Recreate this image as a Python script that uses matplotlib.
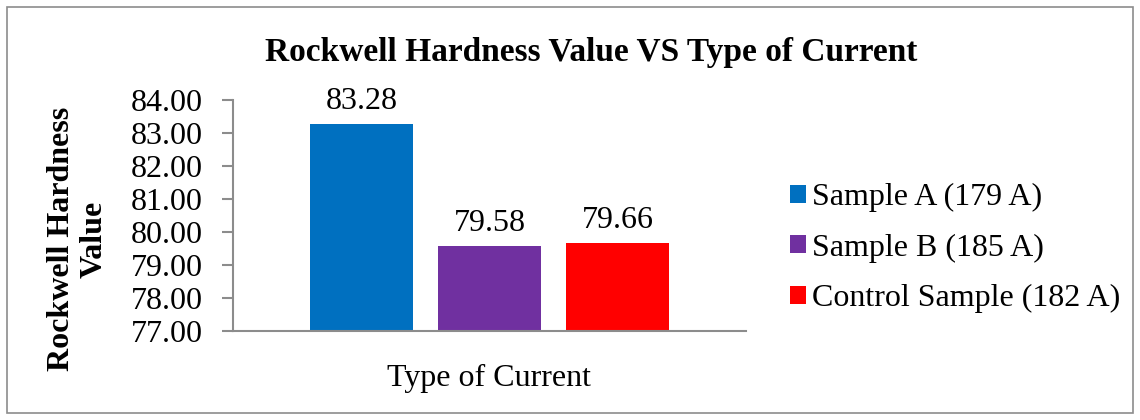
import matplotlib.pyplot as plt
from matplotlib.patches import Rectangle

labels = ['Sample A (179 A)', 'Sample B (185 A)', 'Control Sample (182 A)']
values = [83.28, 79.58, 79.66]
colors = ['#0070c0', '#7030a0', '#ff0000']
yticks = [77, 78, 79, 80, 81, 82, 83, 84]

plt.rcParams['font.family'] = ['Liberation Serif', 'DejaVu Serif']

fig = plt.figure(figsize=(11.4, 4.2), dpi=100)
ax = fig.add_axes([0.2044, 0.2119, 0.45, 0.55])

offsets = [-0.25, 0, 0.25]
for off, v, c, lab in zip(offsets, values, colors, labels):
    ax.bar(off, v - 77, bottom=77, width=0.2, color=c, label=lab)
    ax.text(off, v + 0.25, f'{v:.2f}', ha='center', va='bottom', fontsize=23)

ax.set_xlim(-0.5, 0.5)
ax.set_ylim(77, 84)
ax.set_yticks(yticks)
ax.set_yticklabels([f'{t:.2f}' for t in yticks], fontsize=23)
ax.set_xticks([])
for s in ['top', 'right']:
    ax.spines[s].set_visible(False)
for s in ['left', 'bottom']:
    ax.spines[s].set_color('#8c8c8c')
    ax.spines[s].set_linewidth(1.5)
ax.tick_params(axis='y', color='#8c8c8c', width=1.5, length=8, pad=14)

fig.text(591 / 1140, 1 - 53 / 420, 'Rockwell Hardness Value VS Type of Current',
         ha='center', va='center', fontsize=24, fontweight='bold')
fig.text(78 / 1140, 1 - 239 / 420, 'Rockwell Hardness\nValue', rotation=90,
         ha='center', va='center', fontsize=23, fontweight='bold', linespacing=1.15)
fig.text(489 / 1140, 1 - 378 / 420, 'Type of Current',
         ha='center', va='center', fontsize=23)

ax.legend(loc='center left', bbox_to_anchor=(790 / 1140, 1 - 248 / 420),
          bbox_transform=fig.transFigure, frameon=False, fontsize=23,
          handlelength=0.5, handleheight=0.5, handletextpad=0.2, labelspacing=0.67,
          borderaxespad=0, borderpad=0)

fig.patches.append(Rectangle((7 / 1140, 7 / 420), 1 - 14 / 1140, 1 - 14 / 420,
                             transform=fig.transFigure, fill=False,
                             edgecolor='#8c8c8c', linewidth=1.2))

fig.savefig('out.png', dpi=100)
